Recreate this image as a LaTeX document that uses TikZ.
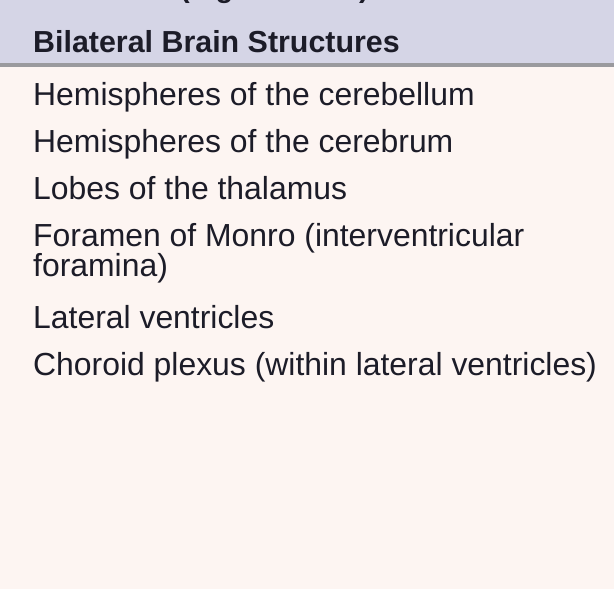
\documentclass[tikz,border=0pt]{standalone}
\usepackage{fontspec}
\setmainfont{Liberation Sans}
\definecolor{headbg}{HTML}{D5D5E6}
\definecolor{bodybg}{HTML}{FDF5F2}
\definecolor{rulegray}{HTML}{9A9A9E}
\definecolor{inkdark}{HTML}{1C1C28}
\begin{document}
\begin{tikzpicture}[x=1pt,y=1pt,
  item/.style={anchor=base west,inner sep=0pt,font=\fontsize{31.9}{26}\selectfont,text=inkdark,align=left},
  head/.style={anchor=base west,inner sep=0pt,font=\fontsize{30.4}{25}\selectfont\bfseries,text=inkdark}]
\useasboundingbox (0,0) rectangle (614,589);
\fill[bodybg] (0,0) rectangle (614,525);
\fill[headbg] (0,525) rectangle (614,589);
\fill[rulegray] (0,522) rectangle (614,526);
\begin{scope}
\clip (0,0) rectangle (614,589);
\node[anchor=base west,inner sep=0pt,font=\fontsize{29}{28}\selectfont\bfseries,text=inkdark] (fig) at (180,591) {(Figure 12.13)};
\end{scope}
\node[head] (title) at (33,536) {Bilateral Brain Structures};
\node[item] (cbl) at (33,483) {Hemispheres of the cerebellum};
\node[item] (cbr) at (33,436) {Hemispheres of the cerebrum};
\node[item] (thal) at (33,389) {Lobes of the thalamus};
\node[item] (monro) at (33,312) {Foramen of Monro (interventricular\\foramina)};
\node[item] (vent) at (33,260) {Lateral ventricles};
\node[item] (plex) at (33,213) {Choroid plexus (within lateral ventricles)};
\end{tikzpicture}
\end{document}
